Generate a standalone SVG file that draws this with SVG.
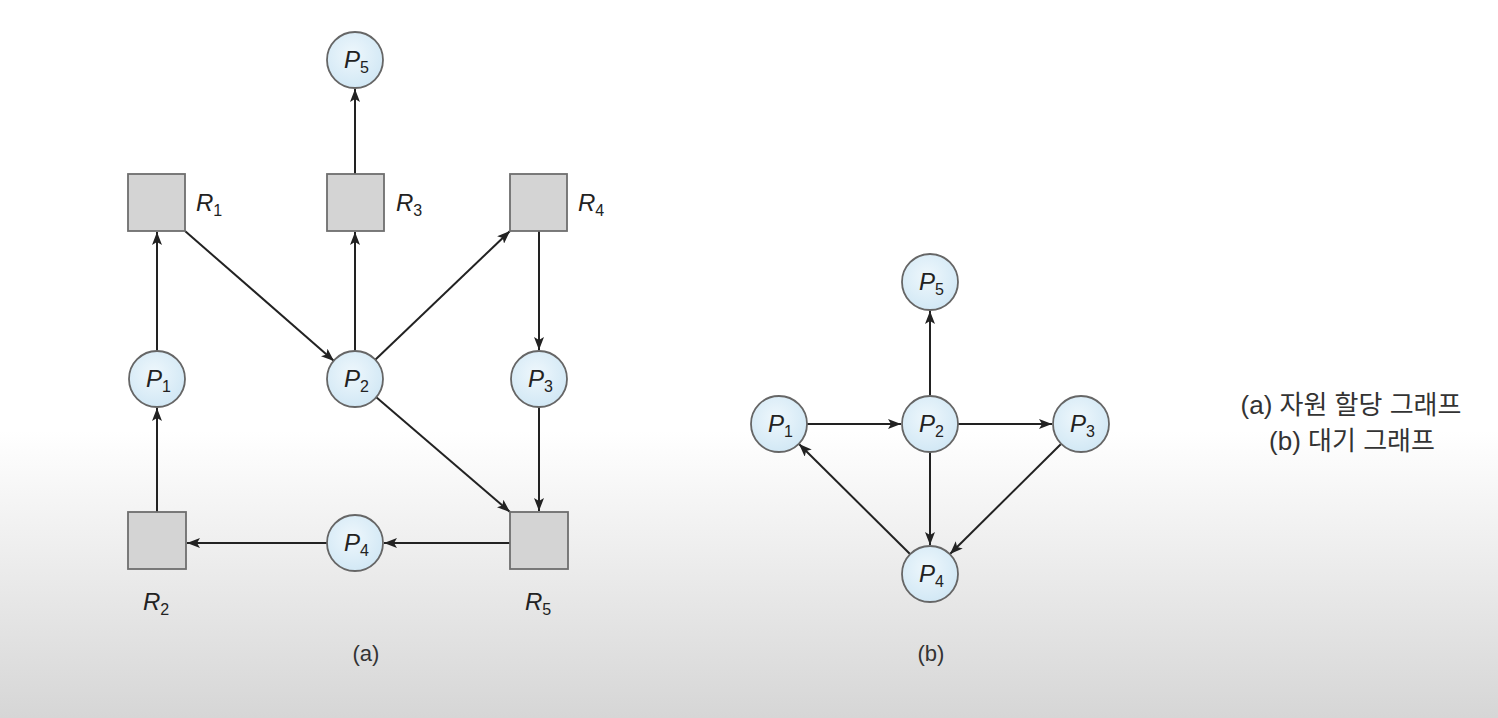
<svg xmlns="http://www.w3.org/2000/svg" width="1498" height="718" viewBox="0 0 1498 718">
<defs>
<linearGradient id="bg" x1="0" y1="0" x2="0" y2="1">
<stop offset="0" stop-color="#ffffff"/>
<stop offset="0.6" stop-color="#ffffff"/>
<stop offset="1" stop-color="#d6d6d6"/>
</linearGradient>
<radialGradient id="cg" cx="0.45" cy="0.4" r="0.6">
<stop offset="0" stop-color="#eef7fc"/>
<stop offset="1" stop-color="#d2e8f5"/>
</radialGradient>
<marker id="ah" markerUnits="userSpaceOnUse" markerWidth="14" markerHeight="10" refX="13" refY="5" orient="auto">
<path d="M0,0 L13,5 L0,10 L3,5 Z" fill="#222"/>
</marker>
<style>
.node circle{fill:url(#cg);stroke:#666;stroke-width:1.8}
.node rect{fill:#d4d4d4;stroke:#6e6e6e;stroke-width:1.8}
.lbl{font-family:"Liberation Sans",Arial,sans-serif;font-style:italic;font-size:24px;fill:#222}
.sub{font-size:16px;font-style:normal}
.edges line{stroke:#222;stroke-width:2;marker-end:url(#ah)}
.cap{font-family:"Liberation Sans",Arial,sans-serif;font-size:22px;fill:#333}
.ko{font-family:"Liberation Sans","Noto Sans CJK KR",sans-serif;font-size:26px;fill:#333}
</style>
</defs>
<rect width="1498" height="718" fill="url(#bg)"/>

<g id="edges" class="edges">
<line x1="355" y1="174" x2="355" y2="89"/>
<line x1="157" y1="351" x2="157" y2="232"/>
<line x1="185" y1="231" x2="334" y2="361"/>
<line x1="355" y1="351" x2="355" y2="232"/>
<line x1="375" y1="360" x2="510" y2="231"/>
<line x1="539" y1="231" x2="539" y2="350"/>
<line x1="539" y1="407" x2="539" y2="511"/>
<line x1="376" y1="397" x2="510" y2="512"/>
<line x1="510" y1="543" x2="384" y2="543"/>
<line x1="327" y1="543" x2="187" y2="543"/>
<line x1="157" y1="512" x2="157" y2="408"/>

<line x1="930" y1="396" x2="930" y2="311"/>
<line x1="807" y1="424" x2="901" y2="424"/>
<line x1="958" y1="424" x2="1052" y2="424"/>
<line x1="930" y1="452" x2="930" y2="545"/>
<line x1="1061" y1="444" x2="950" y2="554"/>
<line x1="910" y1="554" x2="799" y2="444"/>
</g>

<g id="a_P5" class="node"><circle cx="355" cy="60" r="28"/><text class="lbl" x="344" y="68">P<tspan class="sub" dy="5">5</tspan></text></g>
<g id="a_R1" class="node"><rect x="128" y="174" width="57" height="57"/><text class="lbl" x="196" y="211">R<tspan class="sub" dy="5">1</tspan></text></g>
<g id="a_R3" class="node"><rect x="327" y="174" width="57" height="57"/><text class="lbl" x="396" y="211">R<tspan class="sub" dy="5">3</tspan></text></g>
<g id="a_R4" class="node"><rect x="510" y="174" width="57" height="57"/><text class="lbl" x="578" y="211">R<tspan class="sub" dy="5">4</tspan></text></g>
<g id="a_P1" class="node"><circle cx="157" cy="379" r="28"/><text class="lbl" x="146" y="387">P<tspan class="sub" dy="5">1</tspan></text></g>
<g id="a_P2" class="node"><circle cx="355" cy="379" r="28"/><text class="lbl" x="344" y="387">P<tspan class="sub" dy="5">2</tspan></text></g>
<g id="a_P3" class="node"><circle cx="539" cy="379" r="28"/><text class="lbl" x="528" y="387">P<tspan class="sub" dy="5">3</tspan></text></g>
<g id="a_R2" class="node"><rect x="128" y="512" width="58" height="57"/><text class="lbl" x="143" y="610">R<tspan class="sub" dy="5">2</tspan></text></g>
<g id="a_P4" class="node"><circle cx="355" cy="543" r="28"/><text class="lbl" x="344" y="551">P<tspan class="sub" dy="5">4</tspan></text></g>
<g id="a_R5" class="node"><rect x="510" y="512" width="58" height="57"/><text class="lbl" x="525" y="610">R<tspan class="sub" dy="5">5</tspan></text></g>

<g id="b_P5" class="node"><circle cx="930" cy="282" r="28"/><text class="lbl" x="919" y="290">P<tspan class="sub" dy="5">5</tspan></text></g>
<g id="b_P1" class="node"><circle cx="779" cy="424" r="28"/><text class="lbl" x="768" y="432">P<tspan class="sub" dy="5">1</tspan></text></g>
<g id="b_P2" class="node"><circle cx="930" cy="424" r="28"/><text class="lbl" x="919" y="432">P<tspan class="sub" dy="5">2</tspan></text></g>
<g id="b_P3" class="node"><circle cx="1081" cy="424" r="28"/><text class="lbl" x="1070" y="432">P<tspan class="sub" dy="5">3</tspan></text></g>
<g id="b_P4" class="node"><circle cx="930" cy="574" r="28"/><text class="lbl" x="919" y="582">P<tspan class="sub" dy="5">4</tspan></text></g>

<text class="cap" x="366" y="661" text-anchor="middle">(a)</text>
<text class="cap" x="931" y="661" text-anchor="middle">(b)</text>
<text class="ko" x="1351" y="414" text-anchor="middle">(a) 자원 할당 그래프</text>
<text class="ko" x="1352" y="450" text-anchor="middle">(b) 대기 그래프</text>
</svg>
